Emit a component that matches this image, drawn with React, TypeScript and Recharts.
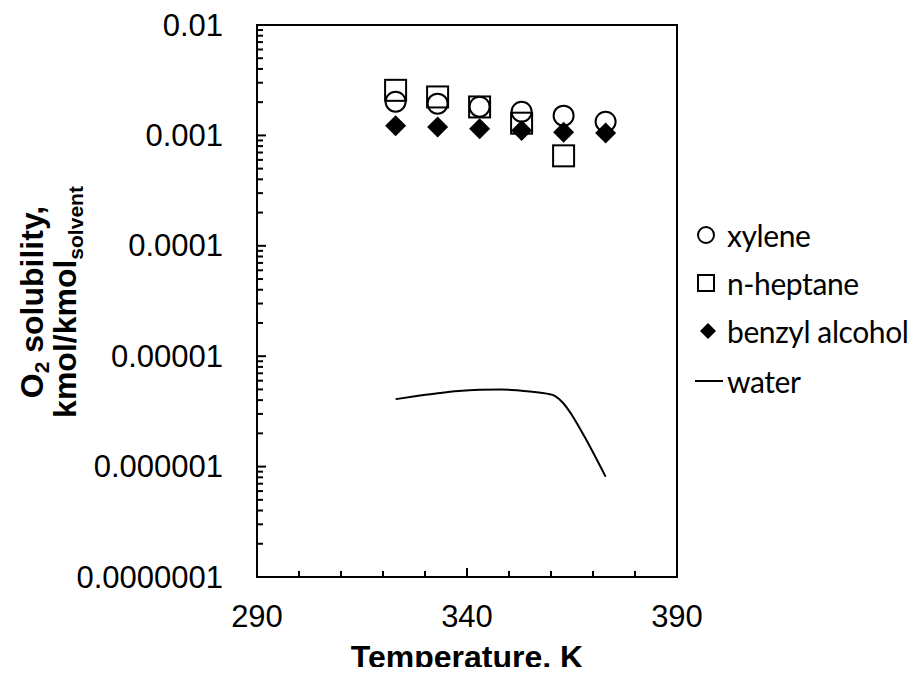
import React from "react";
import { ComposedChart, XAxis, YAxis, Scatter, Line, ReferenceArea, Label } from "recharts";

// temperatures, K
const temps = [323, 333, 343, 353, 363, 373];
const xyleneSol = [0.00202, 0.00194, 0.00182, 0.00164, 0.00151, 0.00133];
const heptaneSol = [0.00256, 0.00223, 0.00181, 0.00129, 0.000653];
const benzylSol = [0.00122, 0.00119, 0.00115, 0.00111, 0.00107, 0.00105];

const waterTemps = [323, 328, 333, 338, 343, 348, 353, 356, 359, 361, 363, 365, 368, 373];
const waterSol = [4.08e-6, 4.35e-6, 4.62e-6, 4.85e-6, 4.97e-6, 5.0e-6, 4.86e-6, 4.75e-6, 4.58e-6, 4.35e-6, 3.73e-6, 2.92e-6, 1.86e-6, 8.1e-7];

const xTicks = [290, 300, 310, 320, 330, 340, 350, 360, 370, 380, 390];
const xMajor = [290, 340, 390];
const yTickLabels = ["0.0000001", "0.000001", "0.00001", "0.0001", "0.001", "0.01"];
const yDecades = [-7, -6, -5, -4, -3];
const yMantissas = [1, 2, 3, 4, 5, 6, 7, 8, 9];

const yTicks = [
  ...yDecades.flatMap((d) => yMantissas.map((m) => m * Math.pow(10, d))),
  0.01,
];

const toPoints = (xs: number[], ys: number[]) => ys.map((v, i) => ({ t: xs[i], v }));

const xyleneData = toPoints(temps, xyleneSol);
const heptaneData = toPoints(temps, heptaneSol);
const benzylData = toPoints(temps, benzylSol);
const waterData = toPoints(waterTemps, waterSol);

const AXIS_FONT = "'Liberation Sans', Arial, sans-serif";
const LEGEND_FONT = "Lato, 'Open Sans', sans-serif";

const YTick = (props: any) => {
  const { x, y, payload } = props;
  const lg = Math.log10(payload.value);
  const major = Math.abs(lg - Math.round(lg)) < 1e-6;
  const label = major ? yTickLabels[Math.round(lg) + 7] : null;
  return (
    <g>
      <line x1={x} x2={x + (major ? 9 : 6)} y1={y} y2={y} stroke="#000" strokeWidth={2} />
      {label && (
        <text x={x - 34} y={y} textAnchor="end" dominantBaseline="central" fontSize={31} fontFamily={AXIS_FONT} fill="#000">
          {label}
        </text>
      )}
    </g>
  );
};

const XTick = (props: any) => {
  const { x, y, payload } = props;
  const major = xMajor.includes(payload.value);
  return (
    <g>
      <line x1={x} x2={x} y1={y} y2={y - (major ? 9 : 6)} stroke="#000" strokeWidth={2} />
      {major && (
        <text x={x} y={y + 50} textAnchor="middle" fontSize={31} fontFamily={AXIS_FONT} fill="#000">
          {payload.value}
        </text>
      )}
    </g>
  );
};

const circleShape = (p: any) => <circle cx={p.cx} cy={p.cy} r={10} fill="none" stroke="#000" strokeWidth={2} />;
const squareShape = (p: any) => <rect x={p.cx - 10.5} y={p.cy - 10.5} width={21} height={21} fill="none" stroke="#000" strokeWidth={2} />;
const diamondShape = (p: any) => (
  <path d={`M${p.cx},${p.cy - 10.5}L${p.cx + 10.5},${p.cy}L${p.cx},${p.cy + 10.5}L${p.cx - 10.5},${p.cy}Z`} fill="#000" />
);

const YTitle = () => {
  const cy = 302;
  const l1 = 43;
  const l2 = 76;
  return (
    <g fontFamily={AXIS_FONT} fontWeight="bold" fill="#000">
      <text x={l1} y={cy} transform={`rotate(-90, ${l1}, ${cy})`} textAnchor="middle" fontSize={32}>
        O<tspan fontSize={21} dy={6}>2</tspan>
        <tspan dy={-6}> solubility,</tspan>
      </text>
      <text x={l2} y={cy} transform={`rotate(-90, ${l2}, ${cy})`} textAnchor="middle" fontSize={32}>
        kmol/kmol<tspan fontSize={21} dy={7}>solvent</tspan>
      </text>
    </g>
  );
};

const XTitle = () => (
  <text x={467} y={668} textAnchor="middle" fontSize={32} fontWeight="bold" fontFamily={AXIS_FONT} fill="#000">
    Temperature, K
  </text>
);

const legendItems = [
  { name: "xylene", kind: "circle", cy: 235 },
  { name: "n-heptane", kind: "square", cy: 283 },
  { name: "benzyl alcohol", kind: "diamond", cy: 331 },
  { name: "water", kind: "line", cy: 381 },
];

const LegendMarker = ({ kind }: { kind: string }) => (
  <svg width={30} height={30} style={{ display: "block" }}>
    {kind === "circle" && <circle cx={11} cy={15} r={8} fill="none" stroke="#000" strokeWidth={2} />}
    {kind === "square" && <rect x={3} y={7} width={16} height={16} fill="none" stroke="#000" strokeWidth={2} />}
    {kind === "diamond" && <path d="M13,7L21,15L13,23L5,15Z" fill="#000" />}
    {kind === "line" && <line x1={0} x2={28} y1={15} y2={15} stroke="#000" strokeWidth={2} />}
  </svg>
);

export default function App() {
  return (
    <div style={{ position: "relative", width: 922, height: 675, margin: -8 }}>
      <ComposedChart width={922} height={675} margin={{ top: 25, right: 245, bottom: 0, left: 0 }}>
        <XAxis
          dataKey="t"
          type="number"
          domain={[290, 390]}
          ticks={xTicks}
          interval={0}
          height={98}
          tickSize={0}
          tickMargin={0}
          tickLine={false}
          tick={<XTick />}
          axisLine={{ stroke: "#000", strokeWidth: 2 }}
          allowDataOverflow
        >
          <Label content={<XTitle />} />
        </XAxis>
        <YAxis
          dataKey="v"
          type="number"
          scale="log"
          domain={[1e-7, 0.01]}
          ticks={yTicks}
          interval={0}
          width={257}
          tickSize={0}
          tickMargin={0}
          tickLine={false}
          tick={<YTick />}
          axisLine={{ stroke: "#000", strokeWidth: 2 }}
          allowDataOverflow
        >
          <Label content={<YTitle />} />
        </YAxis>
        <ReferenceArea x1={290} x2={390} y1={1e-7} y2={0.01} fill="none" stroke="#000" strokeWidth={2} ifOverflow="visible" />
        <Line data={waterData} dataKey="v" type="monotone" stroke="#000" strokeWidth={2} dot={false} isAnimationActive={false} />
        <Scatter data={xyleneData} name="xylene" shape={circleShape} isAnimationActive={false} />
        <Scatter data={heptaneData} name="n-heptane" shape={squareShape} isAnimationActive={false} />
        <Scatter data={benzylData} name="benzyl alcohol" shape={diamondShape} isAnimationActive={false} />
      </ComposedChart>
      {legendItems.map((it) => (
        <div
          key={it.name}
          style={{
            position: "absolute",
            left: 695,
            top: it.cy - 20,
            height: 40,
            display: "flex",
            alignItems: "center",
            whiteSpace: "nowrap",
          }}
        >
          <LegendMarker kind={it.kind} />
          <span style={{ fontFamily: LEGEND_FONT, fontSize: 30, letterSpacing: -0.4, color: "#000", marginLeft: 2 }}>{it.name}</span>
        </div>
      ))}
    </div>
  );
}
